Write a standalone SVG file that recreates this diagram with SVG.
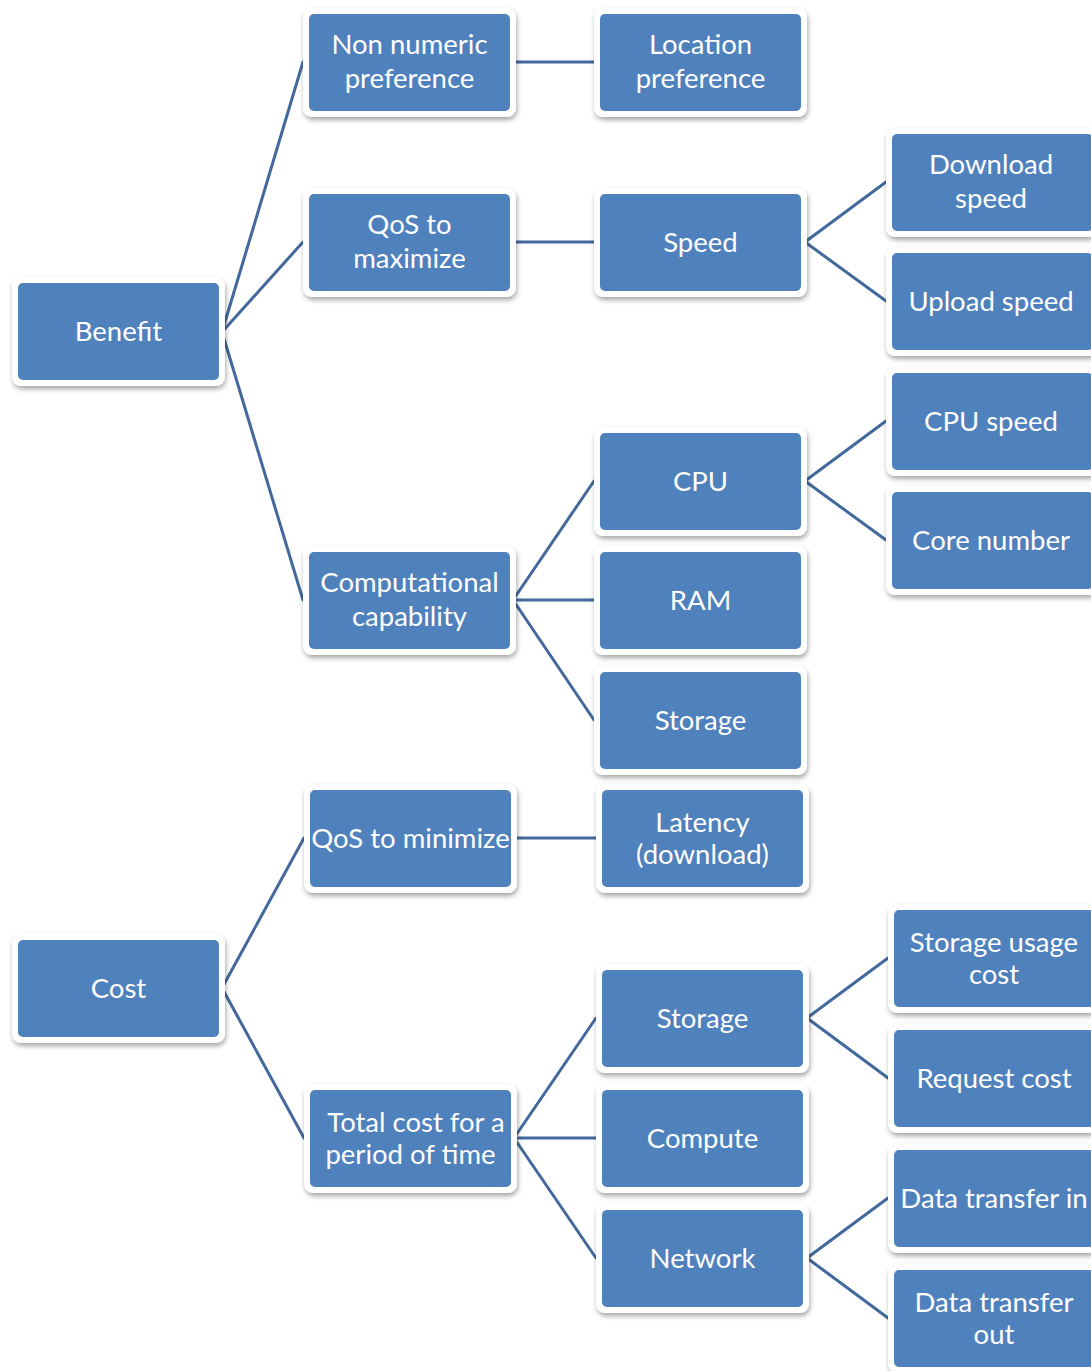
<svg xmlns="http://www.w3.org/2000/svg" width="1091" height="1371" viewBox="0 0 1091 1371">
  <defs>
    <filter id="shadow" x="-10%" y="-10%" width="130%" height="140%">
      <feDropShadow dx="1" dy="3" stdDeviation="2.5" flood-color="#000" flood-opacity="0.35"/>
    </filter>
    <style>
      .frame { fill: #ffffff; filter: url(#shadow); }
      .box { fill: #4f81bd; }
      .label { fill: #ffffff; font-family: Lato, "Liberation Sans", sans-serif; font-size: 27.5px; text-anchor: middle; }
      .link { stroke: #43699c; stroke-width: 3; fill: none; stroke-linecap: round; stroke-linejoin: round; }
    </style>
  </defs>
  <rect width="1091" height="1371" fill="#ffffff"/>

  <!-- connectors -->
  <g id="connectors">
    <polyline class="link" points="303,62 222,332 303,242"/>
    <line class="link" x1="222" y1="332" x2="303" y2="600"/>
    <line class="link" x1="513" y1="62" x2="594" y2="62"/>
    <line class="link" x1="513" y1="242" x2="594" y2="242"/>
    <polyline class="link" points="886,182 805,242 886,301"/>
    <polyline class="link" points="594,481 513,600 594,720"/>
    <line class="link" x1="513" y1="600" x2="594" y2="600"/>
    <polyline class="link" points="886,421 805,481 886,540"/>
    <polyline class="link" points="304,838 222,988 304,1138"/>
    <line class="link" x1="514" y1="838" x2="596" y2="838"/>
    <polyline class="link" points="596,1018 514,1138 596,1258"/>
    <line class="link" x1="514" y1="1138" x2="596" y2="1138"/>
    <polyline class="link" points="888,958 807,1018 888,1078"/>
    <polyline class="link" points="888,1198 807,1258 888,1318"/>
  </g>

  <!-- benefit branch -->
  <g id="benefit">
    <rect class="frame" x="12" y="277" width="213" height="109" rx="9"/>
    <rect class="box" x="18" y="283" width="201" height="97" rx="5"/>
    <text class="label" x="118.5" y="341">Benefit</text>
  </g>
  <g id="non-numeric">
    <rect class="frame" x="303" y="8" width="213" height="109" rx="9"/>
    <rect class="box" x="309" y="14" width="201" height="97" rx="5"/>
    <text class="label" x="409.5" y="54">Non numeric</text>
    <text class="label" x="409.5" y="88">preference</text>
  </g>
  <g id="location">
    <rect class="frame" x="594" y="8" width="213" height="109" rx="9"/>
    <rect class="box" x="600" y="14" width="201" height="97" rx="5"/>
    <text class="label" x="700.5" y="54">Location</text>
    <text class="label" x="700.5" y="88">preference</text>
  </g>
  <g id="qos-max">
    <rect class="frame" x="303" y="188" width="213" height="109" rx="9"/>
    <rect class="box" x="309" y="194" width="201" height="97" rx="5"/>
    <text class="label" x="409.5" y="234">QoS to</text>
    <text class="label" x="409.5" y="268">maximize</text>
  </g>
  <g id="speed">
    <rect class="frame" x="594" y="188" width="213" height="109" rx="9"/>
    <rect class="box" x="600" y="194" width="201" height="97" rx="5"/>
    <text class="label" x="700.5" y="252">Speed</text>
  </g>
  <g id="download-speed">
    <rect class="frame" x="886" y="128" width="213" height="109" rx="9"/>
    <rect class="box" x="892" y="134" width="201" height="97" rx="5"/>
    <text class="label" x="991" y="174">Download</text>
    <text class="label" x="991" y="208">speed</text>
  </g>
  <g id="upload-speed">
    <rect class="frame" x="886" y="247" width="213" height="109" rx="9"/>
    <rect class="box" x="892" y="253" width="201" height="97" rx="5"/>
    <text class="label" x="991" y="311">Upload speed</text>
  </g>
  <g id="computational">
    <rect class="frame" x="303" y="546" width="213" height="109" rx="9"/>
    <rect class="box" x="309" y="552" width="201" height="97" rx="5"/>
    <text class="label" x="409.5" y="592">Computational</text>
    <text class="label" x="409.5" y="626">capability</text>
  </g>
  <g id="cpu">
    <rect class="frame" x="594" y="427" width="213" height="109" rx="9"/>
    <rect class="box" x="600" y="433" width="201" height="97" rx="5"/>
    <text class="label" x="700.5" y="491">CPU</text>
  </g>
  <g id="ram">
    <rect class="frame" x="594" y="546" width="213" height="109" rx="9"/>
    <rect class="box" x="600" y="552" width="201" height="97" rx="5"/>
    <text class="label" x="700.5" y="610">RAM</text>
  </g>
  <g id="storage-capability">
    <rect class="frame" x="594" y="666" width="213" height="109" rx="9"/>
    <rect class="box" x="600" y="672" width="201" height="97" rx="5"/>
    <text class="label" x="700.5" y="730">Storage</text>
  </g>
  <g id="cpu-speed">
    <rect class="frame" x="886" y="367" width="213" height="109" rx="9"/>
    <rect class="box" x="892" y="373" width="201" height="97" rx="5"/>
    <text class="label" x="991" y="431">CPU speed</text>
  </g>
  <g id="core-number">
    <rect class="frame" x="886" y="486" width="213" height="109" rx="9"/>
    <rect class="box" x="892" y="492" width="201" height="97" rx="5"/>
    <text class="label" x="991" y="550">Core number</text>
  </g>

  <!-- cost branch -->
  <g id="cost">
    <rect class="frame" x="12" y="934" width="213" height="109" rx="9"/>
    <rect class="box" x="18" y="940" width="201" height="97" rx="5"/>
    <text class="label" x="118.5" y="998">Cost</text>
  </g>
  <g id="qos-min">
    <rect class="frame" x="304" y="784" width="213" height="109" rx="9"/>
    <rect class="box" x="310" y="790" width="201" height="97" rx="5"/>
    <text class="label" x="410.5" y="848">QoS to minimize</text>
  </g>
  <g id="latency">
    <rect class="frame" x="596" y="784" width="213" height="109" rx="9"/>
    <rect class="box" x="602" y="790" width="201" height="97" rx="5"/>
    <text class="label" x="702.5" y="832">Latency</text>
    <text class="label" x="702.5" y="864">(download)</text>
  </g>
  <g id="total-cost">
    <rect class="frame" x="304" y="1084" width="213" height="109" rx="9"/>
    <rect class="box" x="310" y="1090" width="201" height="97" rx="5"/>
    <text class="label" x="416" y="1132">Total cost for a</text>
    <text class="label" x="410.5" y="1164">period of time</text>
  </g>
  <g id="storage-cost">
    <rect class="frame" x="596" y="964" width="213" height="109" rx="9"/>
    <rect class="box" x="602" y="970" width="201" height="97" rx="5"/>
    <text class="label" x="702.5" y="1028">Storage</text>
  </g>
  <g id="compute">
    <rect class="frame" x="596" y="1084" width="213" height="109" rx="9"/>
    <rect class="box" x="602" y="1090" width="201" height="97" rx="5"/>
    <text class="label" x="702.5" y="1148">Compute</text>
  </g>
  <g id="network">
    <rect class="frame" x="596" y="1204" width="213" height="109" rx="9"/>
    <rect class="box" x="602" y="1210" width="201" height="97" rx="5"/>
    <text class="label" x="702.5" y="1268">Network</text>
  </g>
  <g id="storage-usage-cost">
    <rect class="frame" x="888" y="904" width="213" height="109" rx="9"/>
    <rect class="box" x="894" y="910" width="201" height="97" rx="5"/>
    <text class="label" x="994" y="952">Storage usage</text>
    <text class="label" x="994" y="984">cost</text>
  </g>
  <g id="request-cost">
    <rect class="frame" x="888" y="1024" width="213" height="109" rx="9"/>
    <rect class="box" x="894" y="1030" width="201" height="97" rx="5"/>
    <text class="label" x="994" y="1088">Request cost</text>
  </g>
  <g id="data-in">
    <rect class="frame" x="888" y="1144" width="213" height="109" rx="9"/>
    <rect class="box" x="894" y="1150" width="201" height="97" rx="5"/>
    <text class="label" x="994" y="1208">Data transfer in</text>
  </g>
  <g id="data-out">
    <rect class="frame" x="888" y="1264" width="213" height="109" rx="9"/>
    <rect class="box" x="894" y="1270" width="201" height="97" rx="5"/>
    <text class="label" x="994" y="1312">Data transfer</text>
    <text class="label" x="994" y="1344">out</text>
  </g>
</svg>
